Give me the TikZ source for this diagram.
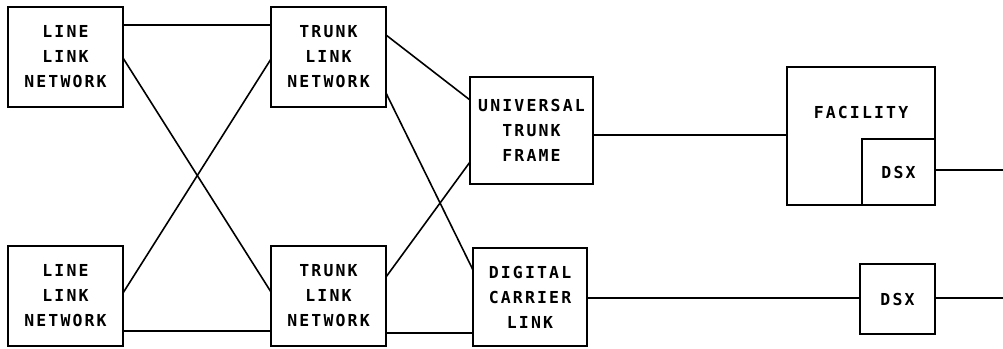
\documentclass[tikz,border=0pt]{standalone}
\usepackage{fontspec}
\usepackage{tikz}
\usetikzlibrary{calc,positioning}
\newfontfamily\plotfont[LetterSpace=13]{DejaVu Sans Mono Bold}
\tikzset{
  box/.style={draw,line width=1.6pt,align=center,inner sep=0pt,outer sep=0pt,
    font=\plotfont\fontsize{16.5}{25}\selectfont},
  txt/.style={inner sep=0pt,font=\plotfont\fontsize{16.5}{25}\selectfont},
  ln/.style={line width=1.6pt}
}
\begin{document}
\begin{tikzpicture}[x=1pt,y=-1pt]
\useasboundingbox (0,0) rectangle (1003,348);
% switching stages
\node[box,minimum width=115pt,minimum height=100pt] (lln1) at (65.5,57) {LINE\\LINK\\NETWORK};
\node[box,minimum width=115pt,minimum height=100pt] (tln1) at (328.5,57) {TRUNK\\LINK\\NETWORK};
\node[box,minimum width=115pt,minimum height=100pt] (lln2) at (65.5,296) {LINE\\LINK\\NETWORK};
\node[box,minimum width=115pt,minimum height=100pt] (tln2) at (328.5,296) {TRUNK\\LINK\\NETWORK};
% trunk side
\node[box,minimum width=123pt,minimum height=107pt] (utf) at (531.5,130.5) {UNIVERSAL\\TRUNK\\FRAME};
\node[box,minimum width=114pt,minimum height=98pt] (dcl) at (530,297) {DIGITAL\\CARRIER\\LINK};
\node[box,minimum width=148pt,minimum height=138pt] (fac) at (861,136) {};
\node[txt] (facl) at (861,112) {FACILITY};
\node[box,minimum width=73pt,minimum height=66pt] (dsx1) at (898.5,172) {DSX};
\node[box,minimum width=75pt,minimum height=70pt] (dsx2) at (897.5,299) {DSX};
\coordinate (out1) at (1003,170);
\coordinate (out2) at (1003,298);
% links
\draw[ln] (lln1.east |- 0,25) -- (tln1.west |- 0,25);
\draw[ln] (lln1.east |- 0,58) -- (tln2.west |- 0,292);
\draw[ln] (lln2.east |- 0,293) -- (tln1.west |- 0,59);
\draw[ln] (lln2.east |- 0,331) -- (tln2.west |- 0,331);
\draw[ln] (tln1.east |- 0,35) -- (utf.west |- 0,100);
\draw[ln] (tln1.east |- 0,93) -- (dcl.west |- 0,270);
\draw[ln] (tln2.east |- 0,277) -- (utf.west |- 0,162);
\draw[ln] (tln2.east |- 0,333) -- (dcl.west |- 0,333);
\draw[ln] (utf.east |- 0,135) -- (fac.west |- 0,135);
\draw[ln] (dcl.east |- 0,298) -- (dsx2.west |- 0,298);
\draw[ln] (dsx1.east |- out1) -- (out1);
\draw[ln] (dsx2.east |- out2) -- (out2);
\end{tikzpicture}
\end{document}
